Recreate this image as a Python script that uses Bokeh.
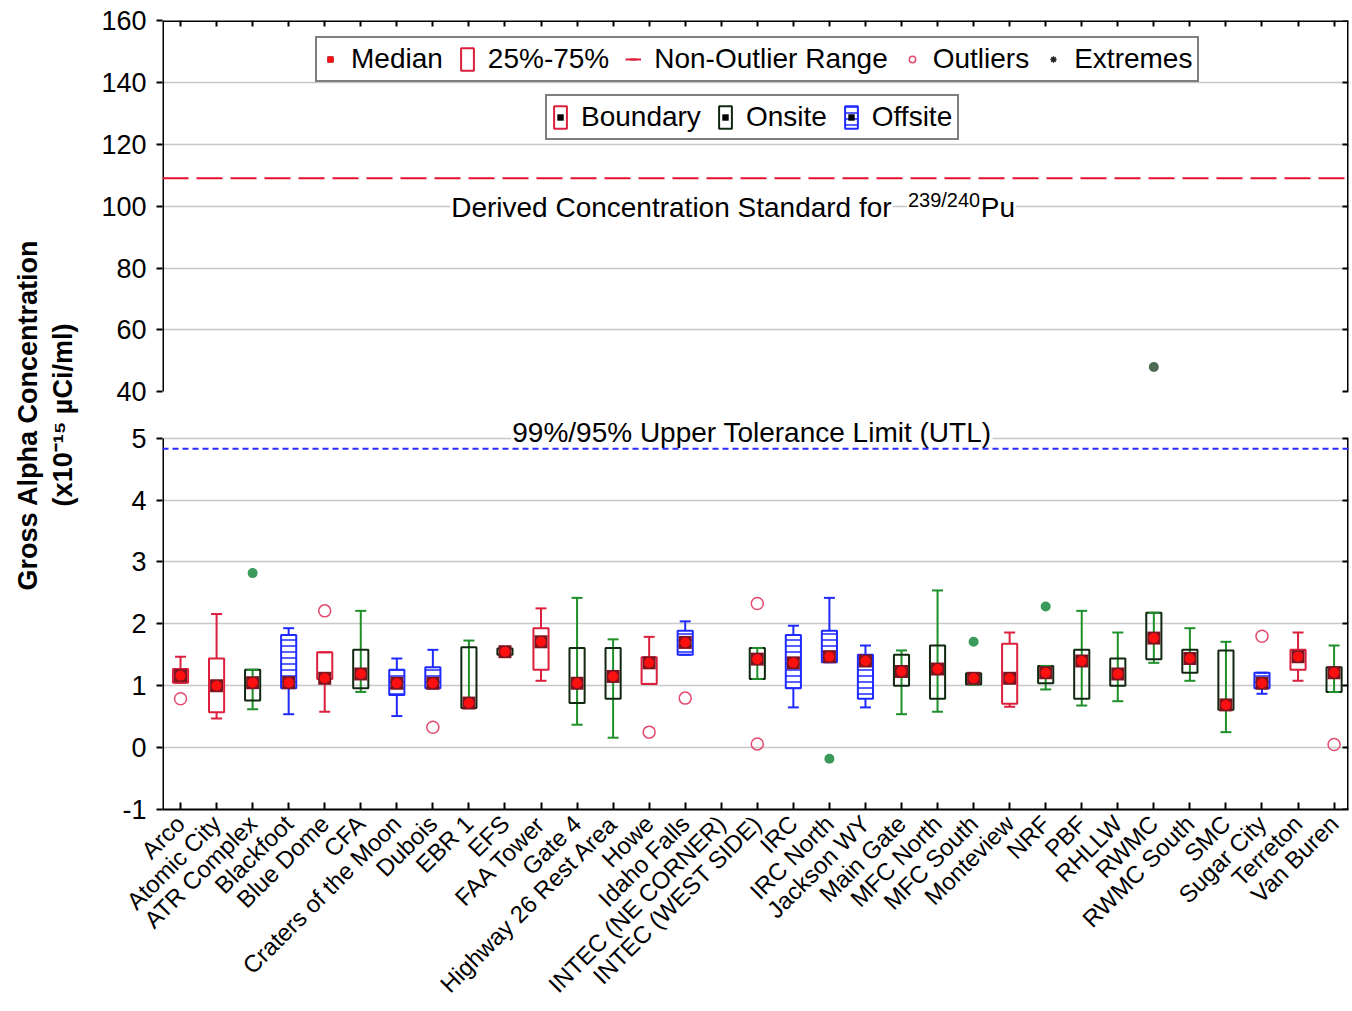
import math
from bokeh.plotting import figure
from bokeh.models import (Range1d, LinearAxis, FixedTicker, Grid, Span, Label,
                          Legend, LegendItem, ColumnDataSource, CustomLabelingPolicy)
from bokeh.embed import file_html
from bokeh.resources import INLINE

FONT = "Liberation Sans"
NAN = float("nan")

# ---------------- data ----------------
STATIONS = ["Arco", "Atomic City", "ATR Complex", "Blackfoot", "Blue Dome", "CFA",
            "Craters of the Moon", "Dubois", "EBR 1", "EFS", "FAA Tower", "Gate 4",
            "Highway 26 Rest Area", "Howe", "Idaho Falls", "INTEC (NE CORNER)",
            "INTEC (WEST SIDE)", "IRC", "IRC North", "Jackson WY", "Main Gate",
            "MFC North", "MFC South", "Monteview", "NRF", "PBF", "RHLLW", "RWMC",
            "RWMC South", "SMC", "Sugar City", "Terreton", "Van Buren"]
GROUP = ["Boundary", "Boundary", "Onsite", "Offsite", "Boundary", "Onsite",
         "Offsite", "Offsite", "Onsite", "Onsite", "Boundary", "Onsite",
         "Onsite", "Boundary", "Offsite", "Onsite",
         "Onsite", "Offsite", "Offsite", "Offsite", "Onsite",
         "Onsite", "Onsite", "Boundary", "Onsite", "Onsite", "Onsite", "Onsite",
         "Onsite", "Onsite", "Offsite", "Boundary", "Onsite"]
LOW = [1.05, 0.47, 0.62, 0.54, 0.58, 0.90, 0.51, 0.96, 0.64, 1.50, 1.08, 0.37, 0.16,
       1.03, 1.50, NAN, 1.11, 0.65, 1.38, 0.65, 0.54, 0.58, 1.02, 0.66, 0.94, 0.68,
       0.75, 1.37, 1.08, 0.25, 0.87, 1.08, 0.90]
Q1 = [1.05, 0.57, 0.76, 0.96, 1.11, 0.96, 0.85, 0.96, 0.64, 1.50, 1.26, 0.72, 0.79,
      1.03, 1.50, NAN, 1.11, 0.96, 1.38, 0.79, 1.00, 0.79, 1.02, 0.71, 1.04, 0.79,
      1.00, 1.43, 1.21, 0.61, 0.96, 1.26, 0.90]
MEDIAN = [1.16, 1.00, 1.05, 1.05, 1.12, 1.19, 1.04, 1.04, 0.72, 1.55, 1.71, 1.04, 1.15,
          1.37, 1.70, NAN, 1.43, 1.37, 1.47, 1.40, 1.23, 1.27, 1.12, 1.12, 1.21, 1.40,
          1.19, 1.77, 1.44, 0.69, 1.04, 1.47, 1.21]
Q3 = [1.27, 1.44, 1.26, 1.82, 1.54, 1.58, 1.26, 1.30, 1.62, 1.60, 1.93, 1.61, 1.61,
      1.46, 1.89, NAN, 1.61, 1.82, 1.89, 1.50, 1.50, 1.65, 1.20, 1.68, 1.32, 1.58,
      1.44, 2.18, 1.58, 1.57, 1.21, 1.58, 1.30]
HIGH = [1.47, 2.16, 1.26, 1.93, 1.54, 2.21, 1.44, 1.58, 1.73, 1.60, 2.25, 2.42, 1.75,
        1.79, 2.04, NAN, 1.61, 1.97, 2.42, 1.65, 1.57, 2.54, 1.20, 1.86, 1.32, 2.21,
        1.86, 2.18, 1.93, 1.71, 1.21, 1.86, 1.65]
OUTLIER_STATION = ["Arco", "Blue Dome", "Dubois", "Howe", "Idaho Falls",
                   "INTEC (WEST SIDE)", "INTEC (WEST SIDE)", "Sugar City", "Van Buren"]
OUTLIER_VALUE = [0.79, 2.21, 0.33, 0.25, 0.80, 2.33, 0.06, 1.80, 0.05]
EXTREME_STATION = ["ATR Complex", "IRC North", "MFC South", "NRF", "RWMC"]
EXTREME_VALUE = [2.82, -0.18, 1.71, 2.28, 48.0]
DCS_VALUE = 109.0
UTL_VALUE = 4.83
LOWER_TICKS = [-1, 0, 1, 2, 3, 4, 5]
UPPER_TICKS = [40, 60, 80, 100, 120, 140, 160]
LOWER_GRID = [0, 1, 2, 3, 4, 5]
UPPER_GRID = [60, 80, 100, 120, 140]

# ---------------- figure ----------------
X_START, X_END = -0.5, 32.4
LOW_START, LOW_END = -1.0, 11.75           # lower (fine) scale
TOP_START, TOP_END = -95.0, 160.0          # upper (coarse) scale, same frame

p = figure(width=1350, height=1010,
           x_range=Range1d(X_START, X_END), y_range=Range1d(LOW_START, LOW_END),
           x_axis_type=None, y_axis_type=None, toolbar_location=None,
           output_backend="svg", min_border_left=162, min_border_right=2,
           min_border_top=20, min_border_bottom=200,
           background_fill_color="white", border_fill_color="white",
           outline_line_color=None)
p.extra_y_ranges = {"top": Range1d(TOP_START, TOP_END)}

NO_LABELS = CustomLabelingPolicy(code="""
for (const i of indices) indices.unset(i)
return indices
""")


def to_lower(v):
    """position of an upper-scale value on the lower scale (both span the frame)"""
    return LOW_START + (v - TOP_START) * (LOW_END - LOW_START) / (TOP_END - TOP_START)


def style_axis(ax, size="27px", lw=2):
    ax.axis_line_color = "black"
    ax.axis_line_width = lw
    ax.major_tick_line_color = "black"
    ax.major_tick_line_width = 2
    ax.minor_tick_line_color = None
    ax.major_label_text_font = FONT
    ax.major_label_text_font_size = size
    ax.major_label_text_color = "black"


# left tick labels (both scales, one axis that takes the side space)
tick_pos = [float(v) for v in LOWER_TICKS] + [to_lower(v) for v in UPPER_TICKS]
tick_txt = [str(v) for v in LOWER_TICKS] + [str(v) for v in UPPER_TICKS]
yA = LinearAxis(ticker=FixedTicker(ticks=tick_pos),
                major_label_overrides=dict(zip(tick_pos, tick_txt)),
                major_tick_out=6, major_tick_in=0, major_label_standoff=10)
style_axis(yA)
yA.axis_line_color = None
p.add_layout(yA, "left")

ytitle = LinearAxis(ticker=FixedTicker(ticks=[]), axis_line_color=None,
                    major_tick_line_color=None, minor_tick_line_color=None,
                    major_label_standoff=0,
                    axis_label="Gross Alpha Concentration\n(x10\u207b\u00b9\u2075 \u00b5Ci/ml)",
                    axis_label_text_font=FONT, axis_label_text_font_size="27px",
                    axis_label_text_font_style="bold", axis_label_text_color="black",
                    axis_label_text_line_height=1.15, axis_label_standoff=21)
p.add_layout(ytitle, "left")

# broken spines: left (line only) and right (line + inward ticks), fixed on frame edges
for side, loc in [("left", X_START), ("right", X_END)]:
    for rng, ticks, bnds in [("default", LOWER_TICKS, (-1, 5)), ("top", UPPER_TICKS, (40, 160))]:
        ax = LinearAxis(y_range_name=rng,
                        ticker=FixedTicker(ticks=ticks if side == "right" else []),
                        bounds=bnds, fixed_location=loc, major_tick_in=6, major_tick_out=0,
                        major_label_standoff=0, major_label_policy=NO_LABELS)
        style_axis(ax, lw=3)
        p.add_layout(ax, side)

# x axes
xticks = list(range(len(STATIONS)))
xB = LinearAxis(ticker=FixedTicker(ticks=xticks),
                major_label_overrides={i: s for i, s in enumerate(STATIONS)},
                major_label_orientation=0.785, major_tick_in=7, major_tick_out=0,
                major_label_standoff=10)
style_axis(xB, "24px")
p.add_layout(xB, "below")
xT = LinearAxis(ticker=FixedTicker(ticks=xticks), fixed_location=LOW_END,
                major_tick_in=6, major_tick_out=0, major_label_standoff=0,
                major_label_policy=NO_LABELS)
style_axis(xT, lw=3)
p.add_layout(xT, "above")

# grids
p.add_layout(Grid(dimension=1, ticker=FixedTicker(ticks=LOWER_GRID),
                  grid_line_color="#c8c8c8", grid_line_width=1.5))
p.add_layout(Grid(dimension=1, ticker=FixedTicker(ticks=UPPER_GRID), y_range_name="top",
                  grid_line_color="#c8c8c8", grid_line_width=1.5))

# annotation texts (white background hides the grid line behind them)
lab = dict(text_font=FONT, text_color="black", text_baseline="middle",
           background_fill_color="white", padding=1)
p.add_layout(Label(x=7.48, y=99.6, y_range_name="top", text="Derived Concentration Standard for",
                   text_font_size="28px", **lab))
p.add_layout(Label(x=20.15, y=101.9, y_range_name="top", text="239/240",
                   text_font_size="20px", **lab))
p.add_layout(Label(x=22.17, y=99.6, y_range_name="top", text="Pu",
                   text_font_size="28px", **lab))
p.add_layout(Label(x=15.85, y=5.10, text="99%/95% Upper Tolerance Limit (UTL)",
                   text_font_size="28px", text_align="center", **lab))

# reference lines
p.add_layout(Span(location=DCS_VALUE, dimension="width", y_range_name="top",
                  line_color="#e8102e", line_width=2, line_dash="26 8"))
p.add_layout(Span(location=UTL_VALUE, dimension="width",
                  line_color="#2b2bff", line_width=2, line_dash="6 4"))

# ---------------- box plots ----------------
STYLE = {
    "Boundary": dict(line="#dc1f3c", stem="#dc1f3c", fill="white", hatch=None),
    "Onsite": dict(line="#102810", stem="#1f8f2a", fill=None, hatch=None),
    "Offsite": dict(line="#1f2aff", stem="#1f2aff", fill="white", hatch="-"),
}


def group_source(g):
    idx = [i for i in range(len(STATIONS)) if GROUP[i] == g and not math.isnan(MEDIAN[i])]
    return ColumnDataSource(dict(x=idx, lo=[LOW[i] for i in idx], q1=[Q1[i] for i in idx],
                                 med=[MEDIAN[i] for i in idx], q3=[Q3[i] for i in idx],
                                 hi=[HIGH[i] for i in idx]))


sources = {g: group_source(g) for g in STYLE}
box_r, stem_r, cap_r = {}, {}, {}
for g, st in STYLE.items():
    stem_r[g] = p.segment(x0="x", y0="lo", x1="x", y1="hi", source=sources[g],
                          line_color=st["stem"], line_width=2)
for g, st in STYLE.items():
    kw = dict(x="x", width=0.42, bottom="q1", top="q3", source=sources[g],
              fill_color=st["fill"], line_color=st["line"], line_width=2)
    if st["hatch"]:
        kw.update(hatch_pattern=st["hatch"], hatch_color=st["line"], hatch_scale=6,
                  hatch_weight=1.5)
    box_r[g] = p.vbar(**kw)
for g, st in STYLE.items():
    cap_r[g] = p.scatter(x="x", y="hi", source=sources[g], marker="dash", size=11,
                         line_color=st["stem"], line_width=2)
    p.scatter(x="x", y="lo", source=sources[g], marker="dash", size=11,
              line_color=st["stem"], line_width=2)

med_idx = [i for i in range(len(STATIONS)) if not math.isnan(MEDIAN[i])]
med_src = ColumnDataSource(dict(x=med_idx, med=[MEDIAN[i] for i in med_idx]))
med_sq = p.scatter(x="x", y="med", source=med_src, marker="square", size=13,
                   fill_color="#7d1420", line_color=None)
med_dot = p.scatter(x="x", y="med", source=med_src, marker="circle", size=10,
                    fill_color="#ff1010", line_color=None)

out_src = ColumnDataSource(dict(x=[STATIONS.index(s) for s in OUTLIER_STATION],
                                y=OUTLIER_VALUE))
out_r = p.scatter(x="x", y="y", source=out_src, marker="circle", size=12,
                  fill_color=None, line_color="#e34b6f", line_width=1.5)

ext_lo = [(STATIONS.index(s), v) for s, v in zip(EXTREME_STATION, EXTREME_VALUE) if v <= 5]
ext_hi = [(STATIONS.index(s), v) for s, v in zip(EXTREME_STATION, EXTREME_VALUE) if v >= 40]
p.scatter(x=[a for a, b in ext_lo], y=[b for a, b in ext_lo], marker="circle", size=10,
          fill_color="#3a9a5c", line_color=None)
p.scatter(x=[a for a, b in ext_hi], y=[b for a, b in ext_hi], y_range_name="top",
          marker="circle", size=10, fill_color="#4d6b52", line_color=None)

# legend-only glyphs (a single NaN point: nothing is drawn in the plot)
asterisk = p.scatter(x=[NAN], y=[NAN], marker="asterisk", size=10, line_color="#202020",
                     line_width=1.5)
black_dot = p.scatter(x=[NAN], y=[NAN], marker="square", size=6, fill_color="black",
                      line_color=None)

leg_kw = dict(orientation="horizontal", glyph_width=16, glyph_height=28,
              label_standoff=13, spacing=16, padding=5, margin=0,
              border_line_color="black", border_line_width=2,
              background_fill_color="white", background_fill_alpha=1.0,
              label_text_font=FONT, label_text_font_size="28px",
              label_text_color="black")
leg1 = Legend(items=[LegendItem(label="Median", renderers=[med_sq, med_dot]),
                     LegendItem(label="25%-75%", renderers=[box_r["Boundary"]]),
                     LegendItem(label="Non-Outlier Range",
                                renderers=[stem_r["Boundary"], cap_r["Boundary"]]),
                     LegendItem(label="Outliers", renderers=[out_r]),
                     LegendItem(label="Extremes", renderers=[asterisk])],
              location=(153, 727), **leg_kw)
leg2 = Legend(items=[LegendItem(label="Boundary", renderers=[box_r["Boundary"], black_dot]),
                     LegendItem(label="Onsite", renderers=[box_r["Onsite"], black_dot]),
                     LegendItem(label="Offsite", renderers=[box_r["Offsite"], black_dot])],
              location=(383, 669), **leg_kw)
p.add_layout(leg1)
p.add_layout(leg2)

open("out.html", "w").write(file_html(p, INLINE))
